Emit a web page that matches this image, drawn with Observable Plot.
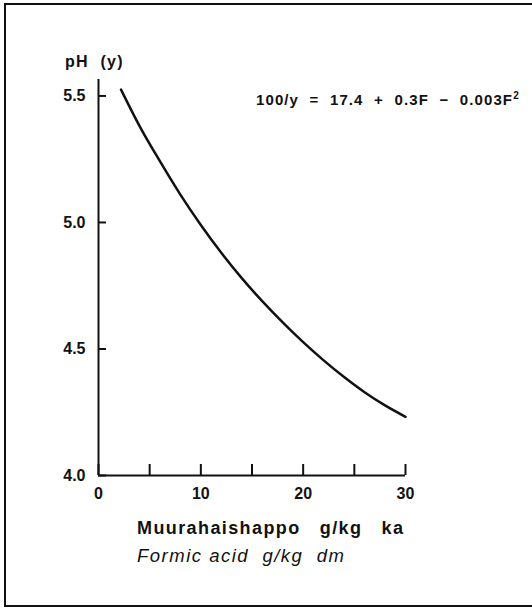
<!DOCTYPE html>
<html>
<head>
<meta charset="utf-8">
<script src="https://cdn.jsdelivr.net/npm/d3@7"></script>
<script src="https://cdn.jsdelivr.net/npm/@observablehq/plot@0.6"></script>
<style>
  html, body { margin: 0; padding: 0; background: #fff; }
  #wrap { position: relative; width: 532px; height: 609px; overflow: hidden; font-family: "Liberation Sans", Arial, sans-serif; color: #111; }
  #frame { position: absolute; left: 4px; top: 3px; width: 540px; height: 604px; border: 2px solid #111; box-sizing: border-box; }
  #chart { position: absolute; left: 0; top: 0; }
  .t { position: absolute; white-space: pre; font-weight: bold; color: #111; }
</style>
</head>
<body>
<div id="wrap">
  <div id="frame"></div>
  <div id="chart"></div>
  <div class="t" id="ytitle" style="left:65px; top:53px; font-size:16px; letter-spacing:1.3px;">pH  (y)</div>
  <div class="t" id="eq" style="left:256px; top:90px; font-size:15px; letter-spacing:1.1px;">100/y  =  17.4  +  0.3F  −  0.003F<sup style="font-size:10px;">2</sup></div>
  <div class="t" id="xt1" style="left:137px; top:518px; font-size:18px; letter-spacing:1.4px;">Muurahaishappo   g/kg   ka</div>
  <div class="t" id="xt2" style="left:137px; top:545px; font-size:18.5px; letter-spacing:1.5px; font-style:italic; font-weight:normal;">Formic acid  g/kg  dm</div>
</div>
<script>
// Values
const formicAcid = [2.2, 4, 6, 8, 10, 12, 14, 16, 18, 20, 22, 24, 26, 28, 30];
const pH         = [5.525, 5.382, 5.242, 5.110, 4.990, 4.880, 4.780, 4.689, 4.605, 4.527, 4.455, 4.389, 4.329, 4.277, 4.232];
const yTicks = [4.0, 4.5, 5.0, 5.5];
const xTickMarks = [0, 5, 10, 15, 20, 25, 30];
const xTickLabels = [0, 10, 20, 30];

const data = formicAcid.map((f, i) => ({f, ph: pH[i]}));

const chart = Plot.plot({
  width: 532,
  height: 609,
  marginLeft: 98,
  marginRight: 127,
  marginTop: 79,
  marginBottom: 134,
  style: {fontFamily: "Liberation Sans, Arial, sans-serif", color: "#111", background: "transparent"},
  x: {domain: [0, 30]},
  y: {domain: [4, 5.565]},
  marks: [
    Plot.axisY({ticks: yTicks, tickSize: -8, tickPadding: 21, tickFormat: d3.format(".1f"), label: null,
                strokeWidth: 2, fontSize: 16, fontWeight: "bold", letterSpacing: "1.2px"}),
    Plot.axisX({ticks: xTickMarks, tickSize: -11, tickFormat: () => "", label: null, strokeWidth: 2}),
    Plot.axisX({ticks: xTickLabels, tickSize: 0, tickPadding: 12, label: null,
                fontSize: 16, fontWeight: "bold", letterSpacing: "0.8px"}),
    Plot.ruleX([0], {strokeWidth: 2}),
    Plot.ruleY([4], {strokeWidth: 2}),
    Plot.line(data, {x: "f", y: "ph", curve: "monotone-x", strokeWidth: 2.5, stroke: "#111"})
  ]
});
document.getElementById("chart").appendChild(chart);
</script>
</body>
</html>
